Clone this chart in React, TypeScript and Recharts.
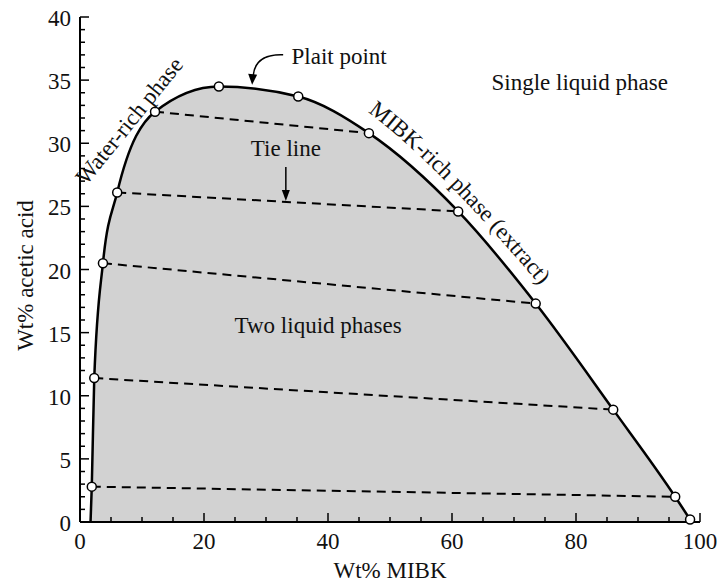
import React from "react";
import { ComposedChart, Line, Area, XAxis, YAxis, ReferenceDot } from "recharts";

// Water-rich (raffinate) side of the binodal curve: wt% MIBK, wt% acetic acid
const waterPhaseMIBK = [1.9, 2.3, 3.7, 6.0, 12.1, 22.4];
const waterPhaseAcid = [2.8, 11.4, 20.5, 26.1, 32.5, 34.5];
// MIBK-rich (extract) side
const solventPhaseMIBK = [35.2, 46.6, 61.0, 73.5, 86.0, 96.0, 98.4];
const solventPhaseAcid = [33.7, 30.8, 24.6, 17.3, 8.9, 2.0, 0.2];
// where the curve meets the x axis on the water side (no marker)
const curveFootMIBK = 1.7;
// tie lines: index in water phase -> index in MIBK phase
const tieWater = [0, 1, 2, 3, 4];
const tieSolvent = [5, 4, 3, 2, 1];

const xTicks = [0, 5, 10, 15, 20, 25, 30, 35, 40, 45, 50, 55, 60, 65, 70, 75, 80, 85, 90, 95, 100];
const xLabels = [0, 20, 40, 60, 80, 100];
const yTicks = Array.from({ length: 41 }, (_, i) => i);
const yLabels = [0, 5, 10, 15, 20, 25, 30, 35, 40];

const FONT = "'Liberation Serif', 'DejaVu Serif', serif";
const FS = 23;

const binodal = [
  { x: curveFootMIBK, y: 0, marker: false },
  ...waterPhaseMIBK.map((x, i) => ({ x, y: waterPhaseAcid[i], marker: true })),
  ...solventPhaseMIBK.map((x, i) => ({ x, y: solventPhaseAcid[i], marker: true })),
];

const tieLines = tieWater.map((w, i) => [
  { x: waterPhaseMIBK[w], y: waterPhaseAcid[w] },
  { x: solventPhaseMIBK[tieSolvent[i]], y: solventPhaseAcid[tieSolvent[i]] },
]);

const txtStyle = { fontFamily: FONT, fontSize: FS, fill: "#111" };

const BottomTick = ({ x, y, payload }: any) => {
  const major = xLabels.includes(payload.value);
  return (
    <g>
      <line x1={x} y1={y} x2={x} y2={y - (major ? 9 : 5)} stroke="#000" strokeWidth={1.5} />
      {major && (
        <text x={x} y={y + 27} textAnchor="middle" style={txtStyle}>
          {payload.value}
        </text>
      )}
    </g>
  );
};

const TopTick = ({ x, y, payload }: any) => {
  const major = xLabels.includes(payload.value);
  return <line x1={x} y1={y} x2={x} y2={y + (major ? 9 : 5)} stroke="#000" strokeWidth={1.5} />;
};

const LeftTick = ({ x, y, payload }: any) => {
  const major = yLabels.includes(payload.value);
  return (
    <g>
      <line x1={x} y1={y} x2={x + (major ? 9 : 5)} y2={y} stroke="#000" strokeWidth={1.5} />
      {major && (
        <text x={x - 9} y={y + 9} textAnchor="end" style={txtStyle}>
          {payload.value}
        </text>
      )}
    </g>
  );
};

const RightTick = ({ x, y, payload }: any) => {
  const major = yLabels.includes(payload.value);
  return <line x1={x} y1={y} x2={x - (major ? 9 : 5)} y2={y} stroke="#000" strokeWidth={1.5} />;
};

const renderDot = (props: any) => {
  const { cx, cy, payload, index } = props;
  if (!payload.marker) return <g key={`d${index}`} />;
  return <circle key={`d${index}`} cx={cx} cy={cy} r={4.5} fill="#fff" stroke="#000" strokeWidth={1.5} />;
};

// label renderer anchored on a ReferenceDot (r=0), gives the pixel centre
const note = (draw: (cx: number, cy: number) => React.ReactNode) => (props: any) => {
  const vb = props.viewBox;
  return <g>{draw(vb.x + vb.width / 2, vb.y + vb.height / 2)}</g>;
};

export default function App() {
  return (
    <div style={{ position: "absolute", left: 0, top: 0, background: "#fff" }}>
      <ComposedChart width={720} height={586} margin={{ top: 17, right: 20, bottom: 0, left: 0 }}>
        <XAxis
          dataKey="x"
          type="number"
          domain={[0, 100]}
          ticks={xTicks}
          interval={0}
          height={64}
          tickSize={0}
          tickMargin={0}
          tickLine={false}
          axisLine={{ stroke: "#000", strokeWidth: 2 }}
          tick={<BottomTick />}
          label={{
            content: (p: any) => (
              <text x={p.viewBox.x + p.viewBox.width / 2} y={p.viewBox.y + 56} textAnchor="middle" style={txtStyle}>
                Wt% MIBK
              </text>
            ),
          }}
        />
        <XAxis
          xAxisId="top"
          orientation="top"
          type="number"
          dataKey="x"
          domain={[0, 100]}
          ticks={xTicks}
          interval={0}
          height={0}
          tickSize={0}
          tickMargin={0}
          tickLine={false}
          axisLine={{ stroke: "#000", strokeWidth: 2 }}
          tick={<TopTick />}
        />
        <YAxis
          type="number"
          domain={[0, 40]}
          ticks={yTicks}
          interval={0}
          width={80}
          tickSize={0}
          tickMargin={0}
          tickLine={false}
          axisLine={{ stroke: "#000", strokeWidth: 2 }}
          tick={<LeftTick />}
          label={{
            content: (p: any) => {
              const cx = 33;
              const cy = p.viewBox.y + p.viewBox.height / 2 + 6;
              return (
                <text x={cx} y={cy} transform={`rotate(-90 ${cx} ${cy})`} textAnchor="middle" style={txtStyle}>
                  Wt% acetic acid
                </text>
              );
            },
          }}
        />
        <YAxis
          yAxisId="right"
          orientation="right"
          type="number"
          domain={[0, 40]}
          ticks={yTicks}
          interval={0}
          width={0}
          tickSize={0}
          tickMargin={0}
          tickLine={false}
          axisLine={{ stroke: "#000", strokeWidth: 2 }}
          tick={<RightTick />}
        />

        <Area
          data={binodal}
          dataKey="y"
          type="monotone"
          baseValue={0}
          fill="#d2d2d2"
          fillOpacity={1}
          stroke="none"
          isAnimationActive={false}
        />
        {tieLines.map((seg, i) => (
          <Line
            key={i}
            data={seg}
            dataKey="y"
            type="linear"
            stroke="#000"
            strokeWidth={2}
            strokeDasharray="9 6"
            dot={false}
            activeDot={false}
            isAnimationActive={false}
          />
        ))}
        <Line
          data={binodal}
          dataKey="y"
          type="monotone"
          stroke="#000"
          strokeWidth={2.5}
          dot={renderDot}
          activeDot={false}
          isAnimationActive={false}
        />

        <ReferenceDot
          x={80.6}
          y={34.2}
          r={0}
          fill="none"
          stroke="none"
          label={note((cx, cy) => (
            <text x={cx} y={cy} textAnchor="middle" style={txtStyle}>
              Single liquid phase
            </text>
          ))}
        />
        <ReferenceDot
          x={41.8}
          y={36.3}
          r={0}
          fill="none"
          stroke="none"
          label={note((cx, cy) => (
            <g>
              <text x={cx} y={cy} textAnchor="middle" style={txtStyle}>
                Plait point
              </text>
              <path
                d={`M ${cx - 56} ${cy - 9} Q ${cx - 84} ${cy - 10} ${cx - 86} ${cy + 12}`}
                fill="none"
                stroke="#000"
                strokeWidth={1.5}
              />
              <polygon
                points={`${cx - 87},${cy + 21} ${cx - 91},${cy + 10} ${cx - 82},${cy + 11}`}
                fill="#000"
              />
            </g>
          ))}
        />
        <ReferenceDot
          x={33.2}
          y={29.0}
          r={0}
          fill="none"
          stroke="none"
          label={note((cx, cy) => (
            <g>
              <text x={cx} y={cy} textAnchor="middle" style={txtStyle}>
                Tie line
              </text>
              <line x1={cx} y1={cy + 11} x2={cx} y2={cy + 38} stroke="#000" strokeWidth={1.5} />
              <polygon points={`${cx},${cy + 45} ${cx - 4},${cy + 34} ${cx + 4},${cy + 34}`} fill="#000" />
            </g>
          ))}
        />
        <ReferenceDot
          x={38.4}
          y={15.0}
          r={0}
          fill="none"
          stroke="none"
          label={note((cx, cy) => (
            <text x={cx} y={cy} textAnchor="middle" style={txtStyle}>
              Two liquid phases
            </text>
          ))}
        />
        <ReferenceDot
          x={8.9}
          y={31.4}
          r={0}
          fill="none"
          stroke="none"
          label={note((cx, cy) => (
            <text x={cx} y={cy} transform={`rotate(-51 ${cx} ${cy})`} textAnchor="middle" style={txtStyle}>
              Water-rich phase
            </text>
          ))}
        />
        <ReferenceDot
          x={46.6}
          y={30.8}
          r={0}
          fill="none"
          stroke="none"
          label={note((cx, cy) => (
            <g>
              <defs>
                <path
                  id="mibkPath"
                  d={`M ${cx - 1} ${cy - 21} Q ${cx + 73} ${cy + 34} ${cx + 186} ${cy + 170}`}
                  fill="none"
                />
              </defs>
              <text style={txtStyle}>
                <textPath href="#mibkPath">MIBK-rich phase (extract)</textPath>
              </text>
            </g>
          ))}
        />
      </ComposedChart>
    </div>
  );
}
